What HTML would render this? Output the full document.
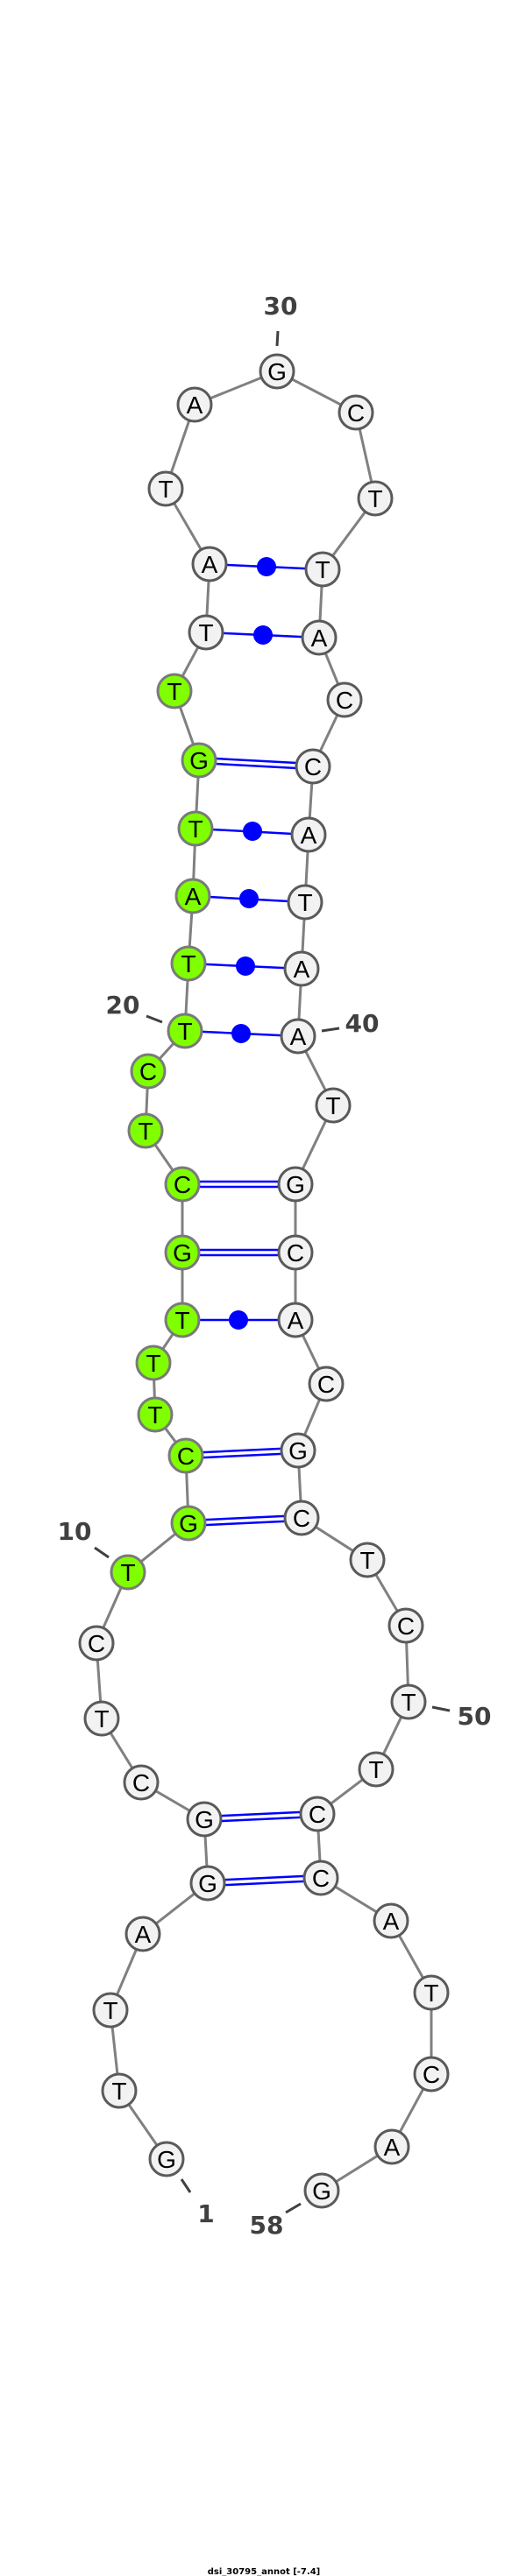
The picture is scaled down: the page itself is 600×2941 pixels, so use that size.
<!DOCTYPE html>
<html><head><meta charset="utf-8"><style>
html,body{margin:0;padding:0;background:#fff;}
svg{display:block;}
.bb{stroke:#808080;stroke-width:3;fill:none;}
.pr{stroke:#0000ff;stroke-width:2.5;fill:none;}
.n{fill:#f2f2f2;stroke:#5a5a5a;stroke-width:3;}
.g{fill:#7fff00;stroke:#7a7a7a;stroke-width:3;}
.t{font-family:"Liberation Sans",sans-serif;font-size:28px;fill:#000;text-anchor:middle;}
.lb{font-family:"DejaVu Sans","Liberation Sans",sans-serif;font-weight:bold;font-size:28px;fill:#404040;text-anchor:middle;}
.tk{stroke:#404040;stroke-width:3;}
.dot{fill:#0000ff;}
</style></head><body>
<svg width="600" height="2941" viewBox="0 0 600 2941" xmlns="http://www.w3.org/2000/svg">
<polyline class="bb" points="190,2465 136,2387 126,2295 163,2208 237,2150 233,2077 161,2035 116,1962 110,1876 146,1795 215,1739 212,1662 177,1615 175,1556 208,1507 208,1430 208,1352 166,1291 169,1223 211,1177 215,1100 220,1023 223,946 227,868 199,789 235,722 239,644 189,558 222,462 316,424 406,471 428,569 368,650 364,728 393,799 357,875 352,953 348,1030 344,1106 340,1183 380,1262 337,1352 337,1430 337,1507 372,1580 340,1656 344,1733 419,1781 463,1856 466,1943 429,2020 362,2071 366,2144 446,2193 492,2275 492,2368 447,2451 367,2501"/>
<!-- single pairs -->
<line class="pr" x1="239" y1="644" x2="368" y2="650"/>
<line class="pr" x1="235" y1="722" x2="364" y2="728"/>
<line class="pr" x1="223" y1="946" x2="352" y2="953"/>
<line class="pr" x1="220" y1="1023" x2="348" y2="1030"/>
<line class="pr" x1="215" y1="1100" x2="344" y2="1106"/>
<line class="pr" x1="211" y1="1177" x2="340" y2="1183"/>
<line class="pr" x1="208" y1="1507" x2="337" y2="1507"/>
<!-- double pairs -->
<line class="pr" x1="227" y1="865" x2="357" y2="872"/>
<line class="pr" x1="227" y1="871" x2="357" y2="878"/>
<line class="pr" x1="208" y1="1349" x2="337" y2="1349"/>
<line class="pr" x1="208" y1="1355" x2="337" y2="1355"/>
<line class="pr" x1="208" y1="1427" x2="337" y2="1427"/>
<line class="pr" x1="208" y1="1433" x2="337" y2="1433"/>
<line class="pr" x1="212" y1="1659" x2="340" y2="1653"/>
<line class="pr" x1="212" y1="1665" x2="340" y2="1659"/>
<line class="pr" x1="215" y1="1736" x2="344" y2="1730"/>
<line class="pr" x1="215" y1="1742" x2="344" y2="1736"/>
<line class="pr" x1="233" y1="2074" x2="362" y2="2068"/>
<line class="pr" x1="233" y1="2080" x2="362" y2="2074"/>
<line class="pr" x1="237" y1="2147" x2="366" y2="2141"/>
<line class="pr" x1="237" y1="2153" x2="366" y2="2147"/>
<!-- dots -->
<circle class="dot" cx="304" cy="647" r="11"/>
<circle class="dot" cx="300" cy="725" r="11"/>
<circle class="dot" cx="288" cy="949" r="11"/>
<circle class="dot" cx="284" cy="1026" r="11"/>
<circle class="dot" cx="280" cy="1103" r="11"/>
<circle class="dot" cx="275" cy="1180" r="11"/>
<circle class="dot" cx="272" cy="1507" r="11"/>
<!-- ticks & labels -->
<line class="tk" x1="317" y1="378" x2="316" y2="395"/>
<text class="lb" x="320" y="359">30</text>
<line class="tk" x1="167" y1="1160" x2="185" y2="1167"/>
<text class="lb" x="140" y="1157">20</text>
<line class="tk" x1="367" y1="1177" x2="387" y2="1174"/>
<text class="lb" x="413" y="1178">40</text>
<line class="tk" x1="108" y1="1767" x2="124" y2="1778"/>
<text class="lb" x="85" y="1758">10</text>
<line class="tk" x1="493" y1="1949" x2="513" y2="1953"/>
<text class="lb" x="541" y="1969">50</text>
<line class="tk" x1="207" y1="2488" x2="217" y2="2503"/>
<text class="lb" x="235" y="2537">1</text>
<line class="tk" x1="326" y1="2526" x2="343" y2="2516"/>
<text class="lb" x="304" y="2550">58</text>
<!-- nodes -->
<g>
<circle class="n" cx="190" cy="2465" r="19"/><text class="t" x="190" y="2475">G</text>
<circle class="n" cx="136" cy="2387" r="19"/><text class="t" x="136" y="2397">T</text>
<circle class="n" cx="126" cy="2295" r="19"/><text class="t" x="126" y="2305">T</text>
<circle class="n" cx="163" cy="2208" r="19"/><text class="t" x="163" y="2218">A</text>
<circle class="n" cx="237" cy="2150" r="19"/><text class="t" x="237" y="2160">G</text>
<circle class="n" cx="233" cy="2077" r="19"/><text class="t" x="233" y="2087">G</text>
<circle class="n" cx="161" cy="2035" r="19"/><text class="t" x="161" y="2045">C</text>
<circle class="n" cx="116" cy="1962" r="19"/><text class="t" x="116" y="1972">T</text>
<circle class="n" cx="110" cy="1876" r="19"/><text class="t" x="110" y="1886">C</text>
<circle class="g" cx="146" cy="1795" r="19"/><text class="t" x="146" y="1805">T</text>
<circle class="g" cx="215" cy="1739" r="19"/><text class="t" x="215" y="1749">G</text>
<circle class="g" cx="212" cy="1662" r="19"/><text class="t" x="212" y="1672">C</text>
<circle class="g" cx="177" cy="1615" r="19"/><text class="t" x="177" y="1625">T</text>
<circle class="g" cx="175" cy="1556" r="19"/><text class="t" x="175" y="1566">T</text>
<circle class="g" cx="208" cy="1507" r="19"/><text class="t" x="208" y="1517">T</text>
<circle class="g" cx="208" cy="1430" r="19"/><text class="t" x="208" y="1440">G</text>
<circle class="g" cx="208" cy="1352" r="19"/><text class="t" x="208" y="1362">C</text>
<circle class="g" cx="166" cy="1291" r="19"/><text class="t" x="166" y="1301">T</text>
<circle class="g" cx="169" cy="1223" r="19"/><text class="t" x="169" y="1233">C</text>
<circle class="g" cx="211" cy="1177" r="19"/><text class="t" x="211" y="1187">T</text>
<circle class="g" cx="215" cy="1100" r="19"/><text class="t" x="215" y="1110">T</text>
<circle class="g" cx="220" cy="1023" r="19"/><text class="t" x="220" y="1033">A</text>
<circle class="g" cx="223" cy="946" r="19"/><text class="t" x="223" y="956">T</text>
<circle class="g" cx="227" cy="868" r="19"/><text class="t" x="227" y="878">G</text>
<circle class="g" cx="199" cy="789" r="19"/><text class="t" x="199" y="799">T</text>
<circle class="n" cx="235" cy="722" r="19"/><text class="t" x="235" y="732">T</text>
<circle class="n" cx="239" cy="644" r="19"/><text class="t" x="239" y="654">A</text>
<circle class="n" cx="189" cy="558" r="19"/><text class="t" x="189" y="568">T</text>
<circle class="n" cx="222" cy="462" r="19"/><text class="t" x="222" y="472">A</text>
<circle class="n" cx="316" cy="424" r="19"/><text class="t" x="316" y="434">G</text>
<circle class="n" cx="406" cy="471" r="19"/><text class="t" x="406" y="481">C</text>
<circle class="n" cx="428" cy="569" r="19"/><text class="t" x="428" y="579">T</text>
<circle class="n" cx="368" cy="650" r="19"/><text class="t" x="368" y="660">T</text>
<circle class="n" cx="364" cy="728" r="19"/><text class="t" x="364" y="738">A</text>
<circle class="n" cx="393" cy="799" r="19"/><text class="t" x="393" y="809">C</text>
<circle class="n" cx="357" cy="875" r="19"/><text class="t" x="357" y="885">C</text>
<circle class="n" cx="352" cy="953" r="19"/><text class="t" x="352" y="963">A</text>
<circle class="n" cx="348" cy="1030" r="19"/><text class="t" x="348" y="1040">T</text>
<circle class="n" cx="344" cy="1106" r="19"/><text class="t" x="344" y="1116">A</text>
<circle class="n" cx="340" cy="1183" r="19"/><text class="t" x="340" y="1193">A</text>
<circle class="n" cx="380" cy="1262" r="19"/><text class="t" x="380" y="1272">T</text>
<circle class="n" cx="337" cy="1352" r="19"/><text class="t" x="337" y="1362">G</text>
<circle class="n" cx="337" cy="1430" r="19"/><text class="t" x="337" y="1440">C</text>
<circle class="n" cx="337" cy="1507" r="19"/><text class="t" x="337" y="1517">A</text>
<circle class="n" cx="372" cy="1580" r="19"/><text class="t" x="372" y="1590">C</text>
<circle class="n" cx="340" cy="1656" r="19"/><text class="t" x="340" y="1666">G</text>
<circle class="n" cx="344" cy="1733" r="19"/><text class="t" x="344" y="1743">C</text>
<circle class="n" cx="419" cy="1781" r="19"/><text class="t" x="419" y="1791">T</text>
<circle class="n" cx="463" cy="1856" r="19"/><text class="t" x="463" y="1866">C</text>
<circle class="n" cx="466" cy="1943" r="19"/><text class="t" x="466" y="1953">T</text>
<circle class="n" cx="429" cy="2020" r="19"/><text class="t" x="429" y="2030">T</text>
<circle class="n" cx="362" cy="2071" r="19"/><text class="t" x="362" y="2081">C</text>
<circle class="n" cx="366" cy="2144" r="19"/><text class="t" x="366" y="2154">C</text>
<circle class="n" cx="446" cy="2193" r="19"/><text class="t" x="446" y="2203">A</text>
<circle class="n" cx="492" cy="2275" r="19"/><text class="t" x="492" y="2285">T</text>
<circle class="n" cx="492" cy="2368" r="19"/><text class="t" x="492" y="2378">C</text>
<circle class="n" cx="447" cy="2451" r="19"/><text class="t" x="447" y="2461">A</text>
<circle class="n" cx="367" cy="2501" r="19"/><text class="t" x="367" y="2511">G</text>
</g>
<text x="301" y="2939" style="font-family:'DejaVu Sans','Liberation Sans',sans-serif;font-weight:bold;font-size:10px;fill:#000;text-anchor:middle">dsi_30795_annot [-7.4]</text>
</svg>
</body></html>
